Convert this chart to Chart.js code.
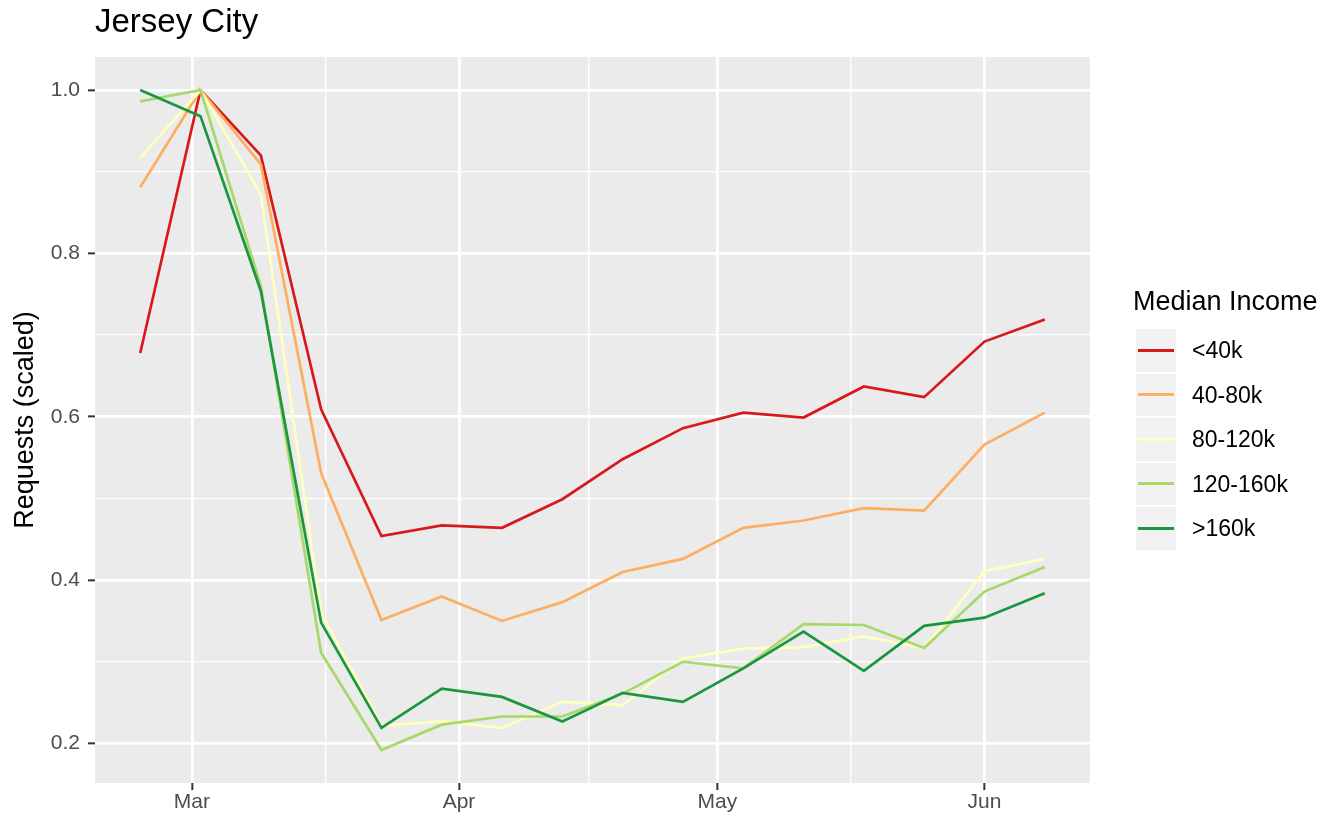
<!DOCTYPE html>
<html>
<head>
<meta charset="utf-8">
<script src="https://cdn.jsdelivr.net/npm/chart.js@4.4.1/dist/chart.umd.min.js"></script>
<style>
  html, body { margin: 0; padding: 0; background: #ffffff; }
  #wrap { position: relative; width: 1326px; height: 815px; overflow: hidden; font-family: "Liberation Sans", Arial, sans-serif; }
  #c { position: absolute; left: 0; top: 0; }
  #title { position: absolute; left: 95px; top: 4px; font-size: 33px; line-height: 33px; color: #000; white-space: nowrap; }
  #legend { position: absolute; left: 0; top: 0; }
  .lg-title { position: absolute; left: 1133px; top: 288px; font-size: 27px; line-height: 27px; color: #000; white-space: nowrap; }
  .lg-key { position: absolute; left: 1135px; width: 42px; height: 44.5px; background: #F2F2F2; box-sizing: border-box; border: 1px solid #ffffff; }
  .lg-line { position: absolute; left: 2px; right: 2px; top: 50%; height: 2.7px; margin-top: -1.35px; }
  .lg-label { position: absolute; left: 1192px; height: 44.5px; line-height: 44.5px; font-size: 23px; color: #000; white-space: nowrap; }
</style>
</head>
<body>
<div id="wrap">
  <canvas id="c" width="1326" height="815"></canvas>
  <div id="title">Jersey City</div>
  <div id="legend"></div>
</div>
<script>
// ---- data (weekly) ----
const weekDates = ['2020-02-24','2020-03-02','2020-03-09','2020-03-16','2020-03-23','2020-03-30','2020-04-06','2020-04-13',
                   '2020-04-20','2020-04-27','2020-05-04','2020-05-11','2020-05-18','2020-05-25','2020-06-01','2020-06-08'];
const seriesNames = ['<40k', '40-80k', '80-120k', '120-160k', '>160k'];
const under40k   = [0.678, 1.000, 0.920, 0.609, 0.454, 0.467, 0.464, 0.499, 0.548, 0.586, 0.605, 0.599, 0.637, 0.624, 0.692, 0.719];
const k40to80    = [0.881, 1.000, 0.909, 0.531, 0.351, 0.380, 0.350, 0.373, 0.410, 0.426, 0.464, 0.473, 0.488, 0.485, 0.566, 0.605];
const k80to120   = [0.917, 1.000, 0.872, 0.360, 0.222, 0.227, 0.219, 0.251, 0.247, 0.304, 0.316, 0.318, 0.331, 0.317, 0.411, 0.426];
const k120to160  = [0.986, 1.000, 0.760, 0.311, 0.192, 0.223, 0.233, 0.233, 0.261, 0.300, 0.292, 0.346, 0.345, 0.317, 0.386, 0.416];
const over160k   = [1.000, 0.968, 0.754, 0.348, 0.219, 0.267, 0.257, 0.227, 0.262, 0.251, 0.292, 0.337, 0.289, 0.344, 0.354, 0.384];
const seriesValues = [under40k, k40to80, k80to120, k120to160, over160k];
const seriesColors = ['#D7191C', '#FDAE61', '#FFFFBF', '#A6D96A', '#1A9641'];

// x axis: days since 1 March 2020
const xTickLabels = ['Mar', 'Apr', 'May', 'Jun'];
const xTickDates  = ['2020-03-01', '2020-04-01', '2020-05-01', '2020-06-01'];
const yMajorTicks = [0.2, 0.4, 0.6, 0.8, 1.0];
const yMinorTicks = [0.3, 0.5, 0.7, 0.9];

const DAY = 86400000;
const origin = Date.UTC(2020, 2, 1);
const toDay = s => { const [y, m, d] = s.split('-').map(Number); return (Date.UTC(y, m - 1, d) - origin) / DAY; };
const xDays = weekDates.map(toDay);
const xMajor = xTickDates.map(toDay);
const xMinor = xMajor.slice(1).map((v, i) => (v + xMajor[i]) / 2);

// ggplot-like 5% expansion
const xLo = Math.min(...xDays), xHi = Math.max(...xDays);
const allY = seriesValues.flat();
const yLo = Math.min(...allY), yHi = Math.max(...allY);
const xPad = (xHi - xLo) * 0.05, yPad = (yHi - yLo) * 0.05;

const near = (a, list) => list.some(v => Math.abs(v - a) < 1e-6);

const datasets = seriesNames.map((name, i) => ({
  label: name,
  data: xDays.map((x, j) => ({ x: x, y: seriesValues[i][j] })),
  borderColor: seriesColors[i],
  backgroundColor: seriesColors[i],
  borderWidth: 2.7,
  pointRadius: 0,
  pointHoverRadius: 0,
  tension: 0,
  fill: false,
  order: seriesNames.length - 1 - i
}));

const panelBg = {
  id: 'panelBg',
  beforeDraw(chart) {
    const { ctx, chartArea: a } = chart;
    ctx.save();
    ctx.fillStyle = '#ffffff';
    ctx.fillRect(0, 0, chart.width, chart.height);
    ctx.fillStyle = '#EBEBEB';
    ctx.fillRect(a.left, a.top, a.right - a.left, a.bottom - a.top);
    ctx.restore();
  }
};

const tickFont = { family: '"Liberation Sans", Arial, sans-serif', size: 21 };

new Chart(document.getElementById('c'), {
  type: 'line',
  data: { datasets },
  plugins: [panelBg],
  options: {
    responsive: false,
    animation: false,
    layout: { padding: { top: 57, right: 236, bottom: 0, left: 0 } },
    plugins: { legend: { display: false }, title: { display: false }, tooltip: { enabled: false } },
    scales: {
      x: {
        type: 'linear',
        min: xLo - xPad,
        max: xHi + xPad,
        afterBuildTicks: s => { s.ticks = xMajor.concat(xMinor).sort((a, b) => a - b).map(v => ({ value: v })); },
        afterFit: s => { s.height = 32; },
        border: { display: false },
        grid: {
          color: '#ffffff',
          lineWidth: c => (c.tick && near(c.tick.value, xMajor)) ? 2.7 : 1.35,
          drawTicks: true,
          tickLength: 7,
          tickWidth: 2,
          tickColor: c => (c.tick && near(c.tick.value, xMajor)) ? '#333333' : 'rgba(0,0,0,0)'
        },
        ticks: {
          autoSkip: false,
          maxRotation: 0,
          padding: 0,
          color: '#4D4D4D',
          font: tickFont,
          callback: v => { const k = xMajor.findIndex(m => Math.abs(m - v) < 1e-6); return k >= 0 ? xTickLabels[k] : ''; }
        }
      },
      y: {
        type: 'linear',
        min: yLo - yPad,
        max: yHi + yPad,
        afterBuildTicks: s => { s.ticks = yMajorTicks.concat(yMinorTicks).sort((a, b) => a - b).map(v => ({ value: v })); },
        afterFit: s => { s.width = 95; },
        border: { display: false },
        grid: {
          color: '#ffffff',
          lineWidth: c => (c.tick && near(c.tick.value, yMajorTicks)) ? 2.7 : 1.35,
          drawTicks: true,
          tickLength: 7,
          tickWidth: 2,
          tickColor: c => (c.tick && near(c.tick.value, yMajorTicks)) ? '#333333' : 'rgba(0,0,0,0)'
        },
        ticks: {
          autoSkip: false,
          padding: 8,
          color: '#4D4D4D',
          font: tickFont,
          callback: v => near(v, yMajorTicks) ? v.toFixed(1) : ''
        },
        title: {
          display: true,
          text: 'Requests (scaled)',
          color: '#000000',
          font: { family: '"Liberation Sans", Arial, sans-serif', size: 27 },
          padding: { top: 9, bottom: 0 }
        }
      }
    }
  }
});

// legend (ggplot-style keys)
const lg = document.getElementById('legend');
const t = document.createElement('div');
t.className = 'lg-title';
t.textContent = 'Median Income';
lg.appendChild(t);
const rowTop = 328, rowH = 44.5;
seriesNames.forEach((name, i) => {
  const key = document.createElement('div');
  key.className = 'lg-key';
  key.style.top = (rowTop + i * rowH) + 'px';
  const ln = document.createElement('div');
  ln.className = 'lg-line';
  ln.style.background = seriesColors[i];
  key.appendChild(ln);
  lg.appendChild(key);
  const lab = document.createElement('div');
  lab.className = 'lg-label';
  lab.style.top = (rowTop + i * rowH) + 'px';
  lab.textContent = name;
  lg.appendChild(lab);
});
</script>
</body>
</html>
